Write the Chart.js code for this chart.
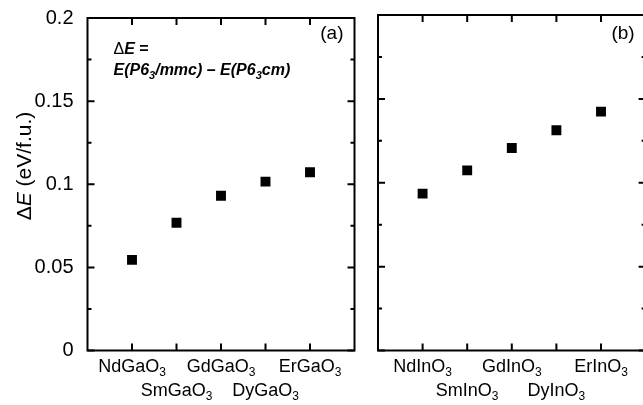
<!DOCTYPE html>
<html>
<head>
  <title>Hexagonal phase energy difference</title>
  <script src="https://cdn.jsdelivr.net/npm/chart.js"></script>
  <style>
    body {
      margin: 0;
      background: #fff;
      overflow: hidden;
    }
    .panel {
      position: absolute;
      top: 0;
      height: 405px;
    }
    #panelA { left: 0; width: 366px; }
    #panelB { left: 366px; width: 292px; }
  </style>
</head>
<body>
  <div class="panel" id="panelA"><canvas id="gallateChart"></canvas></div>
  <div class="panel" id="panelB"><canvas id="indateChart"></canvas></div>

  <script>
    // dE = E(P6_3/mmc) - E(P6_3cm), eV per formula unit
    const gallates = ['NdGaO₃', 'SmGaO₃', 'GdGaO₃', 'DyGaO₃', 'ErGaO₃'];
    const gallateDeltaE = [0.0545, 0.0768, 0.0931, 0.1016, 0.1072];

    const indates = ['NdInO₃', 'SmInO₃', 'GdInO₃', 'DyInO₃', 'ErInO₃'];
    const indateDeltaE = [0.0935, 0.1074, 0.1207, 0.1313, 0.1424];

    const yTicks = [0, 0.05, 0.1, 0.15, 0.2];
    const yTickLabels = ['0', '0.05', '0.1', '0.15', '0.2'];

    const FONT = "'Liberation Sans', Arial, sans-serif";

    // draws a run of [text, font, dy] pieces starting at x
    function drawRuns(ctx, runs, x, y) {
      runs.forEach(([text, font, dy]) => {
        ctx.font = font;
        ctx.fillText(text, x, y + (dy || 0));
        x += ctx.measureText(text).width;
      });
      return x;
    }

    function runsWidth(ctx, runs) {
      let w = 0;
      runs.forEach(([text, font]) => {
        ctx.font = font;
        w += ctx.measureText(text).width;
      });
      return w;
    }

    // 'NdGaO₃' -> body text plus a real lowered subscript
    function formulaRuns(name) {
      const body = name.replace('₃', '');
      return [[body, '18px ' + FONT], ['3', '12px ' + FONT, 4]];
    }

    // Frame round the plot area plus inward ticks on all four sides
    const frameTicks = {
      id: 'frameTicks',
      afterDatasetsDraw(chart) {
        const { ctx, chartArea: a, scales: { x, y } } = chart;
        const names = chart.options.plugins.frameTicks.names;
        ctx.save();
        ctx.strokeStyle = '#000';
        ctx.lineWidth = 2;
        ctx.beginPath();
        yTicks.forEach((v, i) => {
          const py = y.getPixelForValue(v);
          ctx.moveTo(a.left, py); ctx.lineTo(a.left + 7, py);
          ctx.moveTo(a.right, py); ctx.lineTo(a.right - 7, py);
          if (i < yTicks.length - 1) {
            const my = y.getPixelForValue((v + yTicks[i + 1]) / 2);
            ctx.moveTo(a.left, my); ctx.lineTo(a.left + 4, my);
            ctx.moveTo(a.right, my); ctx.lineTo(a.right - 4, my);
          }
        });
        names.forEach((n, i) => {
          const px = x.getPixelForValue(i + 1);
          ctx.moveTo(px, a.bottom); ctx.lineTo(px, a.bottom - 7);
          ctx.moveTo(px, a.top); ctx.lineTo(px, a.top + 7);
        });
        ctx.stroke();
        ctx.strokeRect(a.left, a.top, a.right - a.left, a.bottom - a.top);

        // compound names under the ticks, alternating between two rows
        ctx.fillStyle = '#000';
        ctx.textAlign = 'left';
        ctx.textBaseline = 'alphabetic';
        names.forEach((n, i) => {
          const runs = formulaRuns(n);
          const px = x.getPixelForValue(i + 1);
          const w = runsWidth(ctx, runs);
          drawRuns(ctx, runs, px - w / 2, a.bottom + (i % 2 === 0 ? 21.5 : 45.5));
        });
        ctx.restore();
      }
    };

    // Panel letter, the dE definition and the y-axis title
    const panelText = {
      id: 'panelText',
      afterDraw(chart) {
        const { ctx, chartArea: a } = chart;
        const opts = chart.options.plugins.panelText;
        ctx.save();
        ctx.fillStyle = '#000';
        ctx.textBaseline = 'alphabetic';

        ctx.textAlign = 'right';
        ctx.font = '19px ' + FONT;
        ctx.fillText(opts.label, a.right - 11, 39);
        ctx.textAlign = 'left';

        if (opts.formula) {
          const bi = 'italic bold 16px ' + FONT;
          const sub = 'italic bold 11px ' + FONT;
          drawRuns(ctx, [['Δ', '16px ' + FONT], ['E', bi], [' =', 'bold 16px ' + FONT]], a.left + 26, 54);
          drawRuns(ctx, [
            ['E(P6', bi], ['3', sub, 4], ['/mmc) – E(P6', bi], ['3', sub, 4], ['cm)', bi]
          ], a.left + 26, 75);
        }

        if (opts.yTitle) {
          const reg = '21px ' + FONT;
          const runs = [['Δ', reg], ['E', 'italic 21px ' + FONT], [' (eV/f.u.)', reg]];
          const w = runsWidth(ctx, runs);
          ctx.translate(31, 166);
          ctx.rotate(-Math.PI / 2);
          drawRuns(ctx, runs, -w / 2, 0);
        }
        ctx.restore();
      }
    };

    function panelConfig(names, values, extra) {
      return {
        type: 'scatter',
        data: {
          datasets: [{
            data: values.map((v, i) => ({ x: i + 1, y: v })),
            pointStyle: 'rect',
            pointRadius: 7,
            pointHoverRadius: 7,
            backgroundColor: '#000',
            borderColor: '#000',
            borderWidth: 0
          }]
        },
        options: {
          responsive: true,
          maintainAspectRatio: false,
          animation: false,
          layout: { padding: { top: 15, right: extra.padRight, bottom: 0, left: 0 } },
          plugins: {
            legend: { display: false },
            tooltip: { enabled: false },
            frameTicks: { names: names },
            panelText: extra.text
          },
          scales: {
            x: {
              type: 'linear',
              min: 0,
              max: 6,
              grid: { display: false },
              border: { display: false },
              afterFit: scale => { scale.height = 54.5; },
              ticks: { display: false, stepSize: 1 }
            },
            y: {
              min: 0,
              max: 0.2,
              grid: { display: false },
              border: { display: false },
              afterBuildTicks: scale => { scale.ticks = yTicks.map(v => ({ value: v })); },
              afterFit: scale => { scale.width = extra.yWidth; },
              ticks: {
                display: extra.yLabels,
                padding: 6,
                color: '#000',
                font: { family: FONT, size: 20 },
                callback: (value, index) => yTickLabels[index]
              }
            }
          }
        },
        plugins: [frameTicks, panelText]
      };
    }

    new Chart(document.getElementById('gallateChart'),
      panelConfig(gallates, gallateDeltaE, {
        padRight: 11.5,
        yWidth: 87.5,
        yLabels: true,
        text: { label: '(a)', formula: true, yTitle: true }
      }));

    new Chart(document.getElementById('indateChart'),
      panelConfig(indates, indateDeltaE, {
        padRight: 12.4,
        yWidth: 12,
        yLabels: false,
        text: { label: '(b)', formula: false, yTitle: false }
      }));
  </script>
</body>
</html>
